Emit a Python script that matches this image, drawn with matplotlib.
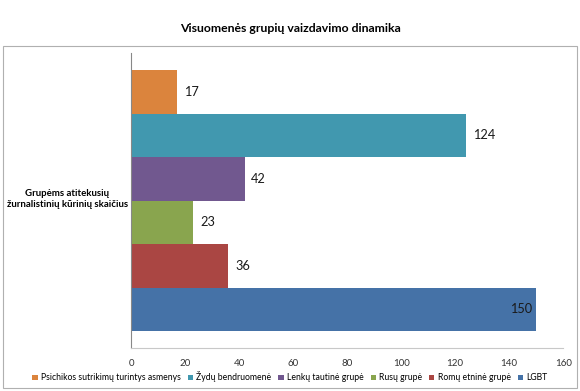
import numpy as np
import matplotlib.pyplot as plt
from matplotlib.patches import Rectangle

plt.rcParams['font.family'] = ['Lato', 'DejaVu Sans']

# top to bottom as drawn
groups = ['Psichikos sutrikimų turintys asmenys', 'Žydų bendruomenė', 'Lenkų tautinė grupė',
          'Rusų grupė', 'Romų etninė grupė', 'LGBT']
values = [17, 124, 42, 23, 36, 150]
colors = ['#DB843D', '#4198AF', '#71588F', '#89A54E', '#AA4643', '#4572A7']
xticks = [0, 20, 40, 60, 80, 100, 120, 140, 160]

fig = plt.figure(figsize=(5.8, 3.91), dpi=100)
ax = fig.add_axes([0.226, 0.110, 0.745, 0.754])

n = len(values)
pos = np.arange(n)[::-1] - (n - 1) / 2
for p, v, c, g in zip(pos, values, colors, groups):
    ax.barh(p, v, height=1.0, color=c, label=g)
    if v > 140:
        ax.text(v - 1.5, p, str(v), ha='right', va='center', fontsize=9.2, color='#1a1a1a')
    else:
        ax.text(v + 2.5, p, str(v), ha='left', va='center', fontsize=9.2, color='#1a1a1a')

ax.set_xlim(0, 160)
ax.set_ylim(-3.39, 3.39)
ax.set_xticks(xticks)
ax.set_xticklabels([str(t) for t in xticks], fontsize=7, color='#333333')
ax.set_yticks([])
ax.tick_params(axis='x', length=0, pad=8)
for s in ['top', 'right']:
    ax.spines[s].set_visible(False)
ax.spines['left'].set_color('#888888')
ax.spines['left'].set_linewidth(0.8)
ax.spines['bottom'].set_color('#c8c8c8')
ax.spines['bottom'].set_linewidth(0.8)

fig.text(0.5, 0.928, 'Visuomenės grupių vaizdavimo dinamika', ha='center', va='center',
         fontsize=8.8, fontweight='bold')
fig.text(0.116, 0.49, 'Grupėms atitekusių\nžurnalistinių kūrinių skaičius', ha='center',
         va='center', fontsize=6.9, fontweight='bold', linespacing=1.3)

fig.patches.append(Rectangle((0.006, 0.008), 0.989, 0.874, transform=fig.transFigure,
                             fill=False, edgecolor='#b0b0b0', linewidth=0.8))

handles, labels = ax.get_legend_handles_labels()
fig.legend(handles, labels, loc='center', bbox_to_anchor=(0.5, 0.036), ncol=6,
           frameon=False, fontsize=6.2, handlelength=0.6, handleheight=0.6,
           handletextpad=0.4, columnspacing=0.8)

fig.savefig('out.png', dpi=100)
